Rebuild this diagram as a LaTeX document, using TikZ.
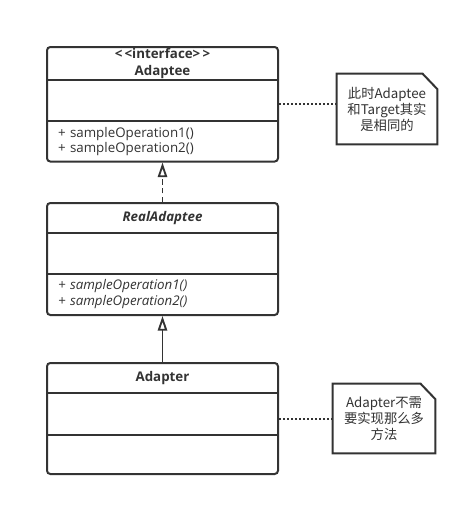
\documentclass[tikz,border=0pt]{standalone}
\usepackage{fontspec}
\setmainfont{Open Sans}
\newfontfamily\cjk{Noto Sans CJK SC}
\usetikzlibrary{arrows.meta, positioning, fit, backgrounds}
\definecolor{umlink}{HTML}{333333}
\tikzset{
  classpart/.style  = {minimum width=173.25pt, inner xsep=8.25pt, inner ysep=0pt,
                       outer sep=0pt, text=umlink},
  classframe/.style = {draw=umlink, line width=1.5pt, rounded corners=2.5pt, inner sep=0pt},
  notebox/.style    = {draw=umlink, line width=1.5pt, fill=white, line join=miter},
}

\begin{document}
\begin{tikzpicture}[
    x=0.75pt, y=-0.75pt,
    every node/.style ={font=\fontsize{10}{12}\selectfont},
    head/.style       ={classpart, align=center, font=\fontsize{10}{12.5}\selectfont\bfseries},
    part/.style       ={classpart},
    ops/.style        ={classpart, align=left, text width=156.75pt},
    divider/.style    ={draw=umlink, line width=1.5pt},
    notetext/.style   ={align=center, inner sep=0pt, text=umlink,
                        font=\cjk\fontsize{10}{12}\selectfont},
    noteline/.style   ={draw=umlink, line width=1.5pt, dash pattern=on 1.4pt off 1.6pt},
    realizearrow/.style={-{Triangle[open, length=11pt, width=7pt, fill=white]},
                        draw=umlink, line width=1.4pt, dash pattern=on 4pt off 2.5pt},
    inheritarrow/.style={-{Triangle[open, length=11pt, width=7pt, fill=white]},
                        draw=umlink, line width=1.4pt}
  ]
  \useasboundingbox (0,0) rectangle (469,506);

  %% --- Interface: Adaptee ----------------------------------------------
  \node[head, minimum height=25.1pt] (adapteehead) at (162.5,63.75)
      {{<}\,{<}interface{>}\,{>}\\Adaptee};
  \node[part, minimum height=30.4pt, below=0pt of adapteehead] (adapteeattr) {};
  \node[ops, minimum height=30.4pt, below=0pt of adapteeattr,
        font=\fontsize{10}{9.75}\selectfont] (adapteeops)
      {+ sampleOperation1()\\+ sampleOperation2()};
  \node[classframe, fit=(adapteehead)(adapteeops)] (adaptee) {};
  \draw[divider] (adapteeattr.north west) -- (adapteeattr.north east);
  \draw[divider] (adapteeops.north west) -- (adapteeops.north east);

  %% --- Abstract class: RealAdaptee -------------------------------------
  \node[head, minimum height=22.5pt, font=\fontsize{10}{12}\selectfont\bfseries\itshape]
      (realadapteehead) at (162.5,218) {RealAdaptee};
  \node[part, minimum height=30.75pt, below=0pt of realadapteehead] (realadapteeattr) {};
  \node[ops, minimum height=30.75pt, below=0pt of realadapteeattr,
        font=\fontsize{10}{12}\selectfont\itshape] (realadapteeops)
      {+ sampleOperation1()\\+ sampleOperation2()};
  \node[classframe, fit=(realadapteehead)(realadapteeops)] (realadaptee) {};
  \draw[divider] (realadapteeattr.north west) -- (realadapteeattr.north east);
  \draw[divider] (realadapteeops.north west) -- (realadapteeops.north east);

  %% --- Class: Adapter --------------------------------------------------
  \node[head, minimum height=22.5pt] (adapterhead) at (162.5,378) {Adapter};
  \node[part, minimum height=31.5pt, below=0pt of adapterhead] (adapterattr) {};
  \node[part, minimum height=29.25pt, below=0pt of adapterattr] (adapterops) {};
  \node[classframe, fit=(adapterhead)(adapterops)] (adapter) {};
  \draw[divider] (adapterattr.north west) -- (adapterattr.north east);
  \draw[divider] (adapterops.north west) -- (adapterops.north east);

  %% --- Notes (folded top-right corner) ---------------------------------
  \node[notetext, minimum width=75pt, minimum height=52.5pt] (note1) at (387,109)
      {此时Adaptee\\和Target其实\\是相同的};
  \node[notetext, minimum width=76.5pt, minimum height=51.75pt] (note2) at (384,418.5)
      {Adapter不需\\要实现那么多\\方法};
  \begin{pgfonlayer}{background}
    \fill[white] (0,0) rectangle (469,506);
    \foreach \n in {note1,note2}
      \draw[notebox] (\n.north west) -- ([xshift=-11pt]\n.north east)
          -- ([yshift=-11.5pt]\n.north east) -- (\n.south east)
          -- (\n.south west) -- cycle;
  \end{pgfonlayer}

  %% --- Relations --------------------------------------------------------
  \draw[realizearrow] (realadaptee.north) -- (adaptee.south);
  \draw[inheritarrow] (adapter.north) -- (realadaptee.south);
  \draw[noteline] (adaptee.east) -- (adaptee.east -| note1.west);
  \draw[noteline] (adapter.east) -- (adapter.east -| note2.west);
\end{tikzpicture}
\end{document}
